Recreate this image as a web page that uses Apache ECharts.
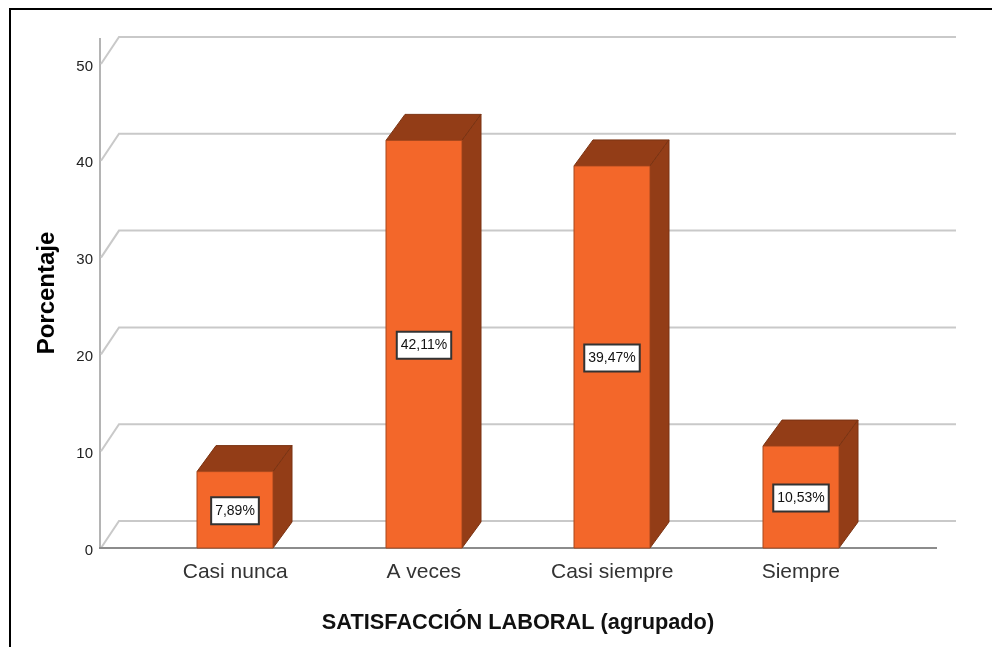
<!DOCTYPE html>
<html>
<head>
<meta charset="utf-8">
<style>html,body{margin:0;padding:0;background:#fff}#c{width:992px;height:647px}</style>
<script src="https://cdn.jsdelivr.net/npm/echarts@6/dist/echarts.min.js"></script>
</head>
<body>
<div id="c"></div>
<script>
const categories = ['Casi nunca', 'A veces', 'Casi siempre', 'Siempre'];
const percentages = [7.89, 42.11, 39.47, 10.53];
const yTicks = [0, 10, 20, 30, 40, 50];

const DX = 19, DY = 27, AXIS_GAP = 41;
const chart = echarts.init(document.getElementById('c'), null, {renderer: 'canvas'});

function renderWall(params, api) {
  const v = api.value(1);
  const cs = params.coordSys;
  const y = api.coord([0, v])[1];
  const x0 = cs.x - AXIS_GAP;
  const xEnd = cs.x + cs.width + 61;
  const gridStyle = {stroke: '#c9c9c9', lineWidth: 2, fill: null};
  const children = [
    {type: 'polyline', shape: {points: [[x0 + 1, y], [x0 + DX, y - DY], [xEnd, y - DY]]}, style: gridStyle}
  ];
  if (v === 0) {
    children.push({type: 'line', shape: {x1: x0, y1: y, x2: x0, y2: y - 510}, style: {stroke: '#b4b4b4', lineWidth: 2}});
    children.push({type: 'line', shape: {x1: x0 - 1, y1: y, x2: cs.x + cs.width + 42, y2: y}, style: {stroke: '#8c8c8c', lineWidth: 2}});
  }
  return {type: 'group', children};
}

function renderBar(params, api) {
  const base = api.coord([api.value(0), 0]);
  const top = api.coord([api.value(0), api.value(1)]);
  const w = 76;
  const l = Math.round(base[0] - w / 2), r = l + w;
  const edge = '#7a3312';
  const label = api.value(1).toFixed(2).replace('.', ',') + '%';
  return {type: 'group', children: [
    {type: 'polygon', shape: {points: [[l, top[1]], [l + DX, top[1] - DY + 1], [r + DX, top[1] - DY + 1], [r, top[1]]]},
      style: {fill: '#933d17', stroke: edge, lineWidth: 1}},
    {type: 'polygon', shape: {points: [[r, top[1]], [r + DX, top[1] - DY + 1], [r + DX, base[1] - DY + 1], [r, base[1]]]},
      style: {fill: '#933d17', stroke: edge, lineWidth: 1}},
    {type: 'rect', shape: {x: l, y: top[1], width: w, height: base[1] - top[1]},
      style: {fill: '#f3672a', stroke: '#a8481d', lineWidth: 1}},
    {type: 'text', x: l + w / 2, y: (top[1] + base[1]) / 2 + 1,
      style: {text: label, fill: '#111', font: '14px "Liberation Sans"', align: 'center', verticalAlign: 'middle',
        backgroundColor: '#fff', borderColor: '#333', borderWidth: 2, padding: [6, 3, 5, 3]}}
  ]};
}

chart.setOption({
  animation: false,
  backgroundColor: '#fff',
  grid: {left: 141, top: 64, width: 754, height: 484, outerBoundsMode: 'none'},
  graphic: [
    {type: 'polyline', silent: true, z: 100,
      shape: {points: [[10, 660], [10, 9], [1000, 9]]},
      style: {stroke: '#000', lineWidth: 2, fill: null}},
    {type: 'text', silent: true, z: 100, x: 47, y: 293, rotation: Math.PI / 2,
      style: {text: 'Porcentaje', fill: '#000', font: 'bold 24px "Liberation Sans"', align: 'center', verticalAlign: 'middle'}}
  ],
  xAxis: {
    type: 'category', data: categories,
    axisLine: {show: false}, axisTick: {show: false},
    axisLabel: {fontSize: 21, fontFamily: 'Liberation Sans', color: '#333', margin: 14},
    name: 'SATISFACCIÓN LABORAL (agrupado)', nameLocation: 'middle', nameGap: 64, nameMoveOverlap: false,
    nameTextStyle: {fontFamily: 'Liberation Sans', fontWeight: 'bold', fontSize: 21.75, color: '#111'}
  },
  yAxis: {
    type: 'value', min: 0, max: 50, interval: 10, offset: AXIS_GAP,
    axisLine: {show: false}, axisTick: {show: false}, splitLine: {show: false},
    axisLabel: {fontFamily: 'Liberation Sans', fontSize: 15, color: '#222', margin: 7, verticalAlign: 'top', lineHeight: 5}
  },
  series: [
    {type: 'custom', name: 'Rejilla', clip: false, silent: true, z: 1,
      data: yTicks.map(v => [0, v]), encode: {x: 0, y: 1}, renderItem: renderWall},
    {type: 'custom', name: 'Porcentaje', clip: false, z: 2,
      data: percentages.map((v, i) => [i, v]), encode: {x: 0, y: 1}, renderItem: renderBar}
  ]
});
</script>
</body>
</html>
